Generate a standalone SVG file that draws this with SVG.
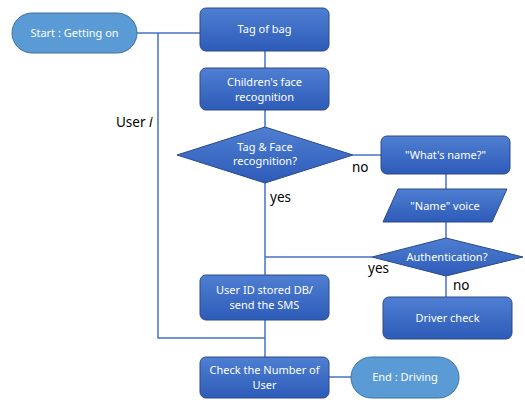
<svg xmlns="http://www.w3.org/2000/svg" width="525" height="400" viewBox="0 0 525 400">
<defs>
<linearGradient id="g" x1="0" y1="0" x2="0" y2="1">
<stop offset="0" stop-color="#4f7fd2"/>
<stop offset="1" stop-color="#2d5bb9"/>
</linearGradient>
<style>
.box{fill:url(#g);stroke:#2c4a86;stroke-width:1}
.term{fill:#5b9bd5;stroke:#41719c;stroke-width:1}
.t{fill:#fff;font-family:"Noto Sans","Open Sans",sans-serif;font-size:11px;text-anchor:middle}
.lbl{fill:#000;font-family:"Noto Sans","Open Sans",sans-serif;font-size:13.5px}
.c{fill:none;stroke:#4472c4;stroke-width:1.5}
</style>
</defs>
<rect width="525" height="400" fill="#fff"/>
<g id="connectors">
<path class="c" d="M137,33 H200"/>
<path class="c" d="M158,33 V338 H265"/>
<path class="c" d="M265,51 V68"/>
<path class="c" d="M265,110 V127"/>
<path class="c" d="M265,183 V275"/>
<path class="c" d="M353,155 H381"/>
<path class="c" d="M446,174 V189"/>
<path class="c" d="M446,222 V238"/>
<path class="c" d="M372,257 H265"/>
<path class="c" d="M446,276 V297"/>
<path class="c" d="M265,320 V357"/>
<path class="c" d="M329,377 H351"/>
</g>
<g id="start"><rect class="term" x="12" y="13" width="125" height="40" rx="20"/><text class="t" x="74.5" y="37">Start : Getting on</text></g>
<g id="tag"><rect class="box" x="200" y="8" width="129" height="43" rx="6"/><text class="t" x="264.5" y="33">Tag of bag</text></g>
<g id="face"><rect class="box" x="200" y="68" width="129" height="42" rx="6"/><text class="t" x="264.5" y="86">Children's face</text><text class="t" x="264.5" y="101">recognition</text></g>
<g id="decision1"><polygon class="box" points="265,127 353,155 265,183 177,155"/><text class="t" x="265" y="151">Tag &amp; Face</text><text class="t" x="265" y="165">recognition?</text></g>
<g id="whatsname"><rect class="box" x="381" y="136" width="129" height="38" rx="6"/><text class="t" x="445.5" y="159">"What's name?"</text></g>
<g id="voice"><polygon class="box" points="398,189 507,189 492,222 383,222"/><text class="t" x="445" y="210">"Name" voice</text></g>
<g id="auth"><polygon class="box" points="446,238 523,257 446,276 372,257"/><text class="t" x="447" y="261" font-size="10">Authentication?</text></g>
<g id="driver"><rect class="box" x="383" y="297" width="129" height="42" rx="6"/><text class="t" x="447.5" y="322">Driver check</text></g>
<g id="userid"><rect class="box" x="200" y="275" width="129" height="45" rx="6"/><text class="t" x="264.5" y="294">User ID stored DB/</text><text class="t" x="264.5" y="309">send the SMS</text></g>
<g id="check"><rect class="box" x="200" y="357" width="129" height="41" rx="6"/><text class="t" x="264.5" y="374">Check the Number of</text><text class="t" x="264.5" y="389">User</text></g>
<g id="end"><rect class="term" x="351" y="357" width="108" height="41" rx="20.5"/><text class="t" x="405" y="381">End : Driving</text></g>
<g id="labels">
<text class="lbl" x="116" y="127">User <tspan font-style="italic">i</tspan></text>
<text class="lbl" x="352" y="172">no</text>
<text class="lbl" x="270" y="202">yes</text>
<text class="lbl" x="368" y="273">yes</text>
<text class="lbl" x="453" y="290">no</text>
</g>
</svg>
